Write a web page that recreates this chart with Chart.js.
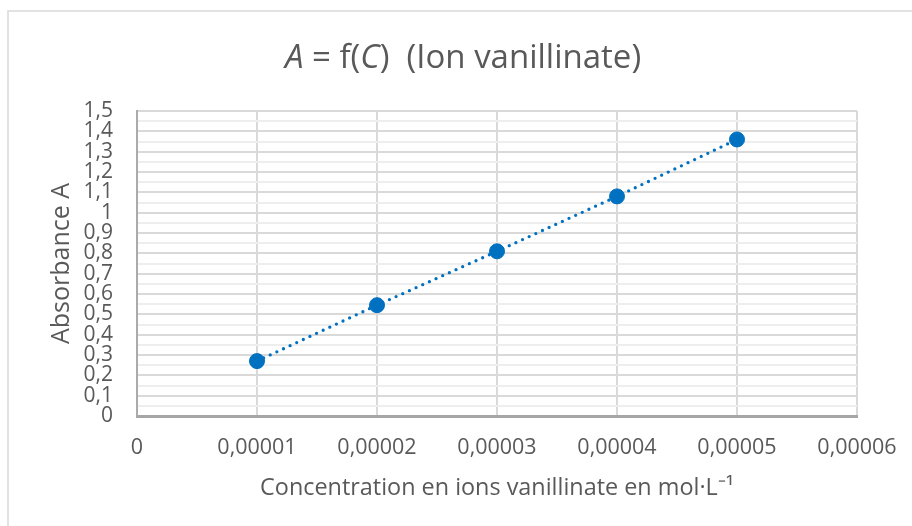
<!DOCTYPE html>
<html>
<head>
<meta charset="utf-8">
<script src="https://cdn.jsdelivr.net/npm/chart.js@4.4.1/dist/chart.umd.min.js"></script>
<style>
    body { margin: 0; background: #ffffff; }
    canvas { display: block; }
</style>
</head>
<body>
<canvas id="chart" width="912" height="526"></canvas>
<script>
const concentrations = [0.00001, 0.00002, 0.00003, 0.00004, 0.00005];
const absorbances = [0.27, 0.545, 0.81, 1.08, 1.36];

const titleParts = [
    { text: 'A', italic: true },
    { text: ' = f(', italic: false },
    { text: 'C', italic: true },
    { text: ')  (Ion vanillinate)', italic: false },
];
const yTitle = 'Absorbance A';
const xTitle = 'Concentration en ions vanillinate en mol·L⁻¹';

const textColor = '#595959';
const fontFamily = '"Open Sans", sans-serif';
const pointColor = '#0070C0';

const points = concentrations.map((c, i) => ({ x: c, y: absorbances[i] }));

function formatComma(value, digits) {
    if (Math.abs(value) < 1e-12) return '0';
    const s = value.toFixed(digits).replace(/\.?0+$/, '');
    return s.replace('.', ',');
}

// chart frame + rich title (italic A and C)
const frame = {
    id: 'frame',
    beforeDraw(chart) {
        const ctx = chart.ctx;
        ctx.save();
        ctx.fillStyle = '#ffffff';
        ctx.fillRect(0, 0, chart.width, chart.height);
        ctx.strokeStyle = '#d9d9d9';
        ctx.lineWidth = 1.5;
        ctx.strokeRect(8, 11, 2000, 2000);
        ctx.restore();
    },
    afterDraw(chart) {
        const ctx = chart.ctx;
        ctx.save();
        ctx.fillStyle = textColor;
        ctx.textBaseline = 'middle';
        const size = 33;
        let total = 0;
        titleParts.forEach(p => {
            ctx.font = (p.italic ? 'italic ' : '') + size + 'px ' + fontFamily;
            total += ctx.measureText(p.text).width;
        });
        let x = 463 - total / 2;
        titleParts.forEach(p => {
            ctx.font = (p.italic ? 'italic ' : '') + size + 'px ' + fontFamily;
            ctx.fillText(p.text, x, 59);
            x += ctx.measureText(p.text).width;
        });
        ctx.restore();
    }
};

function drawChart() {
    new Chart(document.getElementById('chart'), {
        type: 'scatter',
        data: {
            datasets: [
                {
                    label: 'Courbe de tendance',
                    data: points,
                    showLine: true,
                    borderColor: pointColor,
                    borderWidth: 3.3,
                    borderDash: [0, 7.3],
                    borderCapStyle: 'round',
                    pointRadius: 0,
                    order: 2,
                },
                {
                    label: 'Absorbance',
                    data: points,
                    backgroundColor: pointColor,
                    borderColor: pointColor,
                    pointRadius: 7.5,
                    pointHoverRadius: 7.5,
                    order: 1,
                },
            ],
        },
        options: {
            responsive: false,
            animation: false,
            layout: {
                padding: { top: 111, right: 55, left: 1, bottom: 0 },
            },
            plugins: {
                legend: { display: false },
                tooltip: { enabled: false },
            },
            scales: {
                x: {
                    type: 'linear',
                    min: 0,
                    max: 0.00006,
                    afterFit: scale => {
                        scale.height = 110;
                        scale.paddingLeft = 0;
                        scale.paddingRight = 0;
                    },
                    ticks: {
                        stepSize: 0.00001,
                        padding: 19,
                        color: textColor,
                        font: { family: fontFamily, size: 21.5 },
                        callback: v => formatComma(v, 5),
                    },
                    grid: {
                        color: '#d9d9d9',
                        lineWidth: 2,
                        drawTicks: false,
                    },
                    border: { color: '#a6a6a6', width: 3 },
                    title: {
                        display: true,
                        text: xTitle,
                        color: textColor,
                        font: { family: fontFamily, size: 23.4 },
                        padding: { top: 0, bottom: 24 },
                    },
                },
                y: {
                    min: 0,
                    max: 1.5,
                    afterFit: scale => { scale.width = 136; },
                    ticks: {
                        stepSize: 0.05,
                        autoSkip: false,
                        padding: 24,
                        color: textColor,
                        font: { family: fontFamily, size: 21 },
                        callback: (v, i) => (i % 2 === 0 ? formatComma(v, 1) : ''),
                    },
                    grid: {
                        color: ctx => (ctx.index % 2 === 0 ? '#d9d9d9' : '#eeeeee'),
                        lineWidth: 2,
                        drawTicks: false,
                    },
                    border: { color: '#ababab', width: 2 },
                    title: {
                        display: true,
                        text: yTitle,
                        color: textColor,
                        font: { family: fontFamily, size: 25 },
                        padding: { top: 46, bottom: 0 },
                    },
                },
            },
        },
        plugins: [frame],
    });
}

Promise.all([
    document.fonts.load('21px "Open Sans"'),
    document.fonts.load('italic 33px "Open Sans"'),
]).then(drawChart, drawChart);
</script>
</body>
</html>
